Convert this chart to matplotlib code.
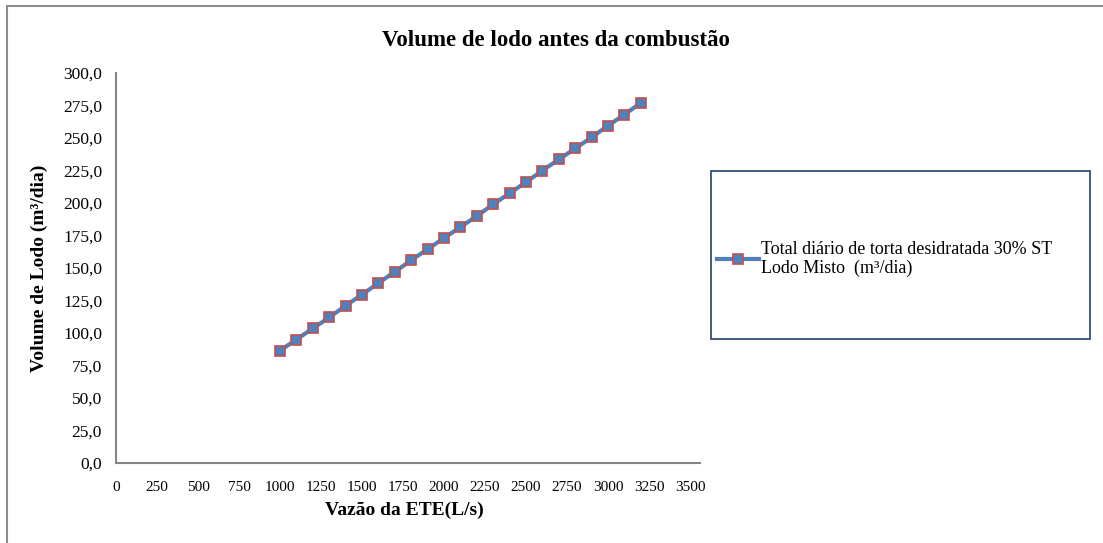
import matplotlib
matplotlib.use("Agg")
import matplotlib.pyplot as plt
from matplotlib.patches import Rectangle
from matplotlib.ticker import FuncFormatter
from matplotlib.lines import Line2D

# dados
vazao = [1000, 1100, 1200, 1300, 1400, 1500, 1600, 1700, 1800, 1900, 2000, 2100,
         2200, 2300, 2400, 2500, 2600, 2700, 2800, 2900, 3000, 3100, 3200]
volume = [86.5, 95.0, 103.5, 112.0, 121.0, 129.5, 138.5, 147.0, 156.0, 164.5, 173.0, 181.5,
          190.0, 199.0, 207.5, 216.0, 225.0, 233.5, 242.0, 250.5, 259.5, 268.0, 277.0]
serie_label = "Total diário de torta desidratada 30% ST\nLodo Misto  (m³/dia)"
titulo = "Volume de lodo antes da combustão"
x_ticks = list(range(0, 3501, 250))
y_ticks = [i * 25.0 for i in range(13)]

plt.rcParams['font.family'] = ['Liberation Serif', 'DejaVu Serif']

W, H = 1103, 543
fig = plt.figure(figsize=(W / 100, H / 100), dpi=100)
fig.patch.set_facecolor('white')

# borda externa do grafico (so topo e esquerda aparecem)
fig.add_artist(Rectangle((6.5 / W, -0.1), 1.2, 1 - 6.5 / H + 0.1, transform=fig.transFigure,
                         fill=False, edgecolor='#8c8c8c', linewidth=1.5))

ax = fig.add_axes([116 / W, 1 - 463 / H, (690 - 116) / W, (463 - 73) / H])
estilo = dict(color='#4F81BD', linewidth=3.0, marker='s', markersize=7.8,
              markerfacecolor='#4F81BD', markeredgecolor='#C0504D', markeredgewidth=1.2)
ax.plot(vazao, volume, label=serie_label, zorder=3, **estilo)

ax.set_xlim(0, 3500)
ax.set_ylim(0, 300)
ax.set_xticks(x_ticks)
ax.set_yticks(y_ticks)
ax.yaxis.set_major_formatter(FuncFormatter(lambda v, p: f"{v:.1f}".replace('.', ',')))
ax.tick_params(length=0)
ax.tick_params(axis='y', labelsize=12.5, pad=10)
ax.tick_params(axis='x', labelsize=11, pad=13)
for s in ['top', 'right']:
    ax.spines[s].set_visible(False)
for s in ['left', 'bottom']:
    ax.spines[s].set_color('#868686')
    ax.spines[s].set_linewidth(1.5)
ax.spines['bottom'].set_bounds(0, 3560)
ax.spines['bottom'].set_clip_on(False)

fig.text(556 / W, 1 - 40 / H, titulo, ha='center', va='center', fontsize=16.5, fontweight='bold')
fig.text(404 / W, 1 - 510 / H, "Vazão da ETE(L/s)", ha='center', va='center',
         fontsize=14, fontweight='bold')
fig.text(39 / W, 1 - 268 / H, "Volume de Lodo (m³/dia)", ha='center', va='center',
         rotation=90, fontsize=14, fontweight='bold')

# caixa da legenda
fig.add_artist(Rectangle((711 / W, 1 - 339 / H), (1090 - 711) / W, (339 - 171) / H,
                         transform=fig.transFigure, fill=False, edgecolor='#243F6E', linewidth=1.2))
h = Line2D([], [], **estilo)
fig.legend([h], [serie_label], loc='center left', bbox_to_anchor=(717 / W, 1 - 259 / H),
           frameon=False, fontsize=13, handlelength=2.3, handletextpad=0.12,
           borderpad=0, borderaxespad=0, labelspacing=0)

fig.savefig("out.png", dpi=100)
